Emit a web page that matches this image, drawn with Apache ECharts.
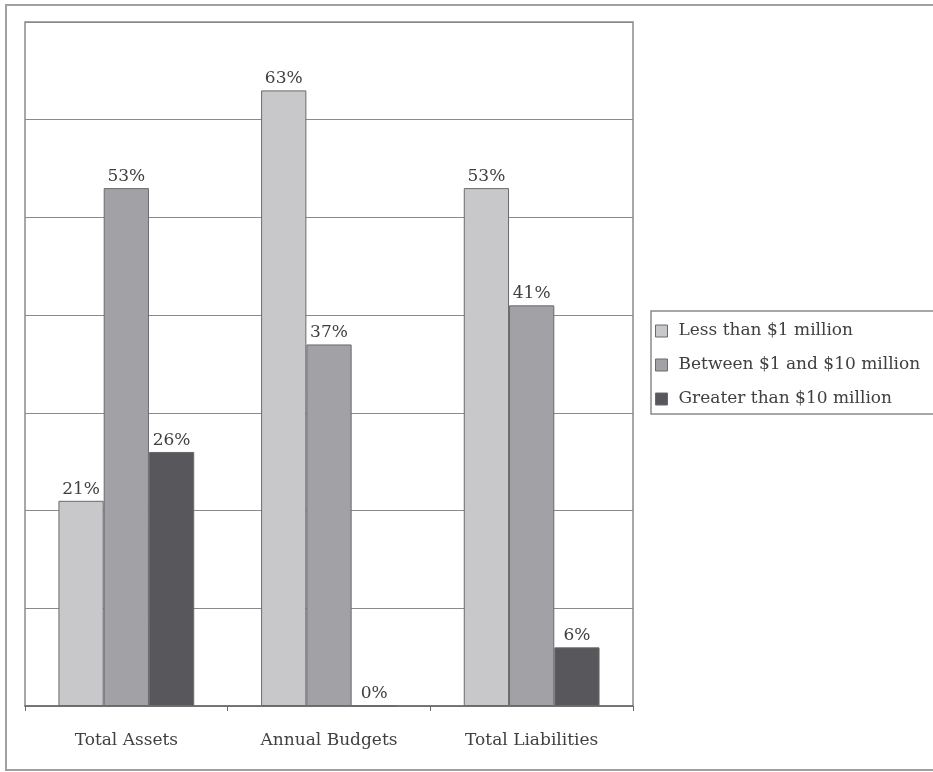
<!DOCTYPE html>
<html>
<head>
<meta charset="utf-8">
<script src="https://cdn.jsdelivr.net/npm/echarts@6/dist/echarts.min.js"></script>
<style>
  html, body { margin: 0; padding: 0; background: #fff; }
  #chart { width: 933px; height: 772px; }
</style>
</head>
<body>
<div id="chart"></div>
<script>
// data
var categories = ['Total Assets', 'Annual Budgets', 'Total Liabilities'];
var seriesNames = ['Less than $1 million', 'Between $1 and $10 million', 'Greater than $10 million'];
var lessThan1 = [21, 63, 53];
var between1and10 = [53, 37, 41];
var greaterThan10 = [26, 0, 6];

var colors = ['#c8c8ca', '#a2a2a6', '#58585c'];
var serif = '"DejaVu Serif", "Liberation Serif", serif';

function barSeries(name, data, color) {
    return {
        name: name,
        type: 'bar',
        data: data,
        barGap: '0%',
        barCategoryGap: '33%',
        itemStyle: { color: color, borderColor: '#6a6a6e', borderWidth: 1 },
        label: {
            show: true,
            position: 'top',
            distance: 3,
            formatter: '{c}%',
            fontFamily: serif,
            fontSize: 17,
            color: '#404040'
        }
    };
}

var chart = echarts.init(document.getElementById('chart'));
chart.setOption({
    animation: false,
    color: colors,
    grid: {
        left: 25,
        right: 300,
        top: 22,
        bottom: 66,
        show: true,
        borderColor: '#8a8a8a',
        borderWidth: 1.5
    },
    legend: {
        orient: 'vertical',
        left: 651,
        top: 311,
        padding: [10, 30, 5, 4],
        itemWidth: 12,
        itemHeight: 12,
        itemGap: 14,
        icon: 'rect',
        borderColor: '#8a8a8a',
        borderWidth: 1.5,
        textStyle: { fontFamily: serif, fontSize: 17, lineHeight: 20, color: '#404040', padding: [0, 0, 0, 6] },
        itemStyle: { borderColor: '#6a6a6e', borderWidth: 1 },
        data: seriesNames
    },
    xAxis: {
        type: 'category',
        data: categories,
        axisLine: { lineStyle: { color: '#6a6a6e', width: 1.5 } },
        axisTick: { show: true, length: 5, lineStyle: { color: '#6a6a6e' } },
        axisLabel: { fontFamily: serif, fontSize: 17, color: '#404040', margin: 26 }
    },
    yAxis: {
        type: 'value',
        min: 0,
        max: 70,
        interval: 10,
        axisLine: { show: false },
        axisTick: { show: false },
        axisLabel: { show: false },
        splitLine: { lineStyle: { color: '#8a8a8a', width: 1.2 } }
    },
    graphic: [{
        type: 'rect',
        shape: { x: 6, y: 5, width: 940, height: 765 },
        style: { fill: null, stroke: '#a0a0a0', lineWidth: 2 },
        silent: true
    }],
    series: [
        barSeries(seriesNames[0], lessThan1, colors[0]),
        barSeries(seriesNames[1], between1and10, colors[1]),
        barSeries(seriesNames[2], greaterThan10, colors[2])
    ]
});
</script>
</body>
</html>
